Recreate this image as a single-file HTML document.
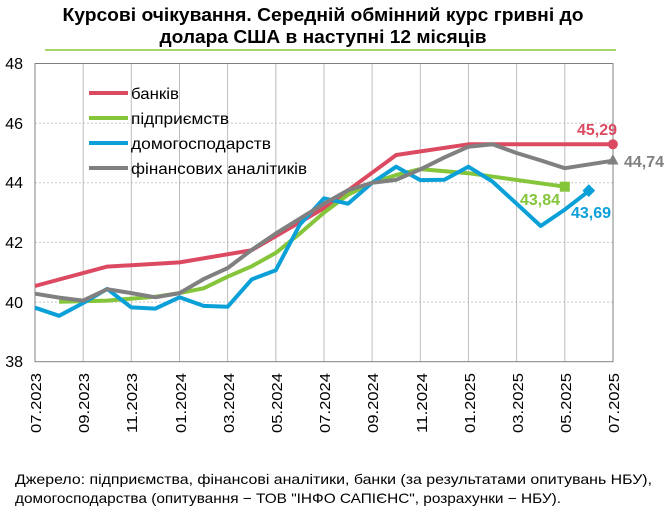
<!DOCTYPE html>
<html><head><meta charset="utf-8"><style>
html,body{margin:0;padding:0;background:#fff;}
svg{display:block;font-family:"Liberation Sans",sans-serif;}
</style></head><body>
<svg width="667" height="507" viewBox="0 0 667 507" xmlns="http://www.w3.org/2000/svg">
<text x="323" y="21" font-size="18" font-weight="bold" text-anchor="middle" textLength="521" lengthAdjust="spacingAndGlyphs" fill="#000">Курсові очікування. Середній обмінний курс гривні до</text>
<text x="323" y="43" font-size="18" font-weight="bold" text-anchor="middle" textLength="327" lengthAdjust="spacingAndGlyphs" fill="#000">долара США в наступні 12 місяців</text>
<line x1="45" y1="50" x2="616" y2="50" stroke="#8cc63f" stroke-width="1.5"/>
<g stroke="#c8c8c8" stroke-width="1" stroke-dasharray="2,2">
<line x1="35" y1="123.2" x2="613" y2="123.2"/><line x1="35" y1="182.8" x2="613" y2="182.8"/><line x1="35" y1="242.4" x2="613" y2="242.4"/><line x1="35" y1="302.1" x2="613" y2="302.1"/>
</g>
<g stroke="#bdbdbd" stroke-width="1">
<line x1="83.2" y1="63.5" x2="83.2" y2="361.7"/><line x1="131.3" y1="63.5" x2="131.3" y2="361.7"/><line x1="179.5" y1="63.5" x2="179.5" y2="361.7"/><line x1="227.6" y1="63.5" x2="227.6" y2="361.7"/><line x1="275.8" y1="63.5" x2="275.8" y2="361.7"/><line x1="324" y1="63.5" x2="324" y2="361.7"/><line x1="372.1" y1="63.5" x2="372.1" y2="361.7"/><line x1="420.3" y1="63.5" x2="420.3" y2="361.7"/><line x1="468.4" y1="63.5" x2="468.4" y2="361.7"/><line x1="516.6" y1="63.5" x2="516.6" y2="361.7"/><line x1="564.8" y1="63.5" x2="564.8" y2="361.7"/>
</g>
<rect x="35" y="63.5" width="578" height="298.2" fill="none" stroke="#808080" stroke-width="1"/>
<g font-size="16" fill="#000" text-anchor="end">
<text x="23" y="69">48</text><text x="23" y="129">46</text><text x="23" y="188">44</text><text x="23" y="248">42</text><text x="23" y="308">40</text><text x="23" y="367">38</text>
</g>
<g font-size="15" fill="#000">
<text transform="translate(41,433) rotate(-90)" textLength="60" lengthAdjust="spacingAndGlyphs">07.2023</text>
<text transform="translate(89,433) rotate(-90)" textLength="60" lengthAdjust="spacingAndGlyphs">09.2023</text>
<text transform="translate(137,433) rotate(-90)" textLength="60" lengthAdjust="spacingAndGlyphs">11.2023</text>
<text transform="translate(186,433) rotate(-90)" textLength="60" lengthAdjust="spacingAndGlyphs">01.2024</text>
<text transform="translate(234,433) rotate(-90)" textLength="60" lengthAdjust="spacingAndGlyphs">03.2024</text>
<text transform="translate(282,433) rotate(-90)" textLength="60" lengthAdjust="spacingAndGlyphs">05.2024</text>
<text transform="translate(330,433) rotate(-90)" textLength="60" lengthAdjust="spacingAndGlyphs">07.2024</text>
<text transform="translate(378,433) rotate(-90)" textLength="60" lengthAdjust="spacingAndGlyphs">09.2024</text>
<text transform="translate(427,433) rotate(-90)" textLength="60" lengthAdjust="spacingAndGlyphs">11.2024</text>
<text transform="translate(475,433) rotate(-90)" textLength="60" lengthAdjust="spacingAndGlyphs">01.2025</text>
<text transform="translate(523,433) rotate(-90)" textLength="60" lengthAdjust="spacingAndGlyphs">03.2025</text>
<text transform="translate(571,433) rotate(-90)" textLength="60" lengthAdjust="spacingAndGlyphs">05.2025</text>
<text transform="translate(619,433) rotate(-90)" textLength="60" lengthAdjust="spacingAndGlyphs">07.2025</text>
</g>
<g fill="none" stroke-width="4" stroke-linejoin="round">
<polyline stroke="#dc4a62" points="35,286 107.2,266.6 179.5,262.4 251.7,250.2 324,208.1 396.2,155 468.4,144.3 612.9,144.3"/>
<polyline stroke="#84c53a" points="59.1,301.8 107.2,300.6 155.4,296.7 179.5,293.1 203.6,288.3 227.6,276.7 251.7,266.3 275.8,252.9 299.9,233.5 324,212.6 348,194.7 372.1,182.8 396.2,175 420.3,169.1 468.4,173.2 564.8,186.7"/>
<polyline stroke="#0ba0d8" points="35,307.7 59.1,315.8 83.2,303 107.2,288.9 131.3,307.4 155.4,308.6 179.5,297.3 203.6,305.9 227.6,306.8 251.7,279.4 275.8,270.2 299.9,224.5 324,198.3 348,203.7 372.1,182.8 396.2,166.7 420.3,180.1 444.4,179.8 468.4,166.7 492.5,181.6 516.6,203.7 540.7,226 564.8,209.6 588.8,191.1"/>
<polyline stroke="#808080" points="35,293.7 59.1,297.6 83.2,300.6 107.2,289.2 131.3,293.1 155.4,297.3 179.5,293.1 203.6,279.1 227.6,268.1 251.7,249.9 275.8,233.5 299.9,218.6 324,203.7 348,190.2 372.1,182.8 396.2,179.8 420.3,169.4 444.4,157.4 468.4,146.7 492.5,144.3 516.6,153 540.7,160.4 564.8,168.2 612.9,160.7"/>
</g>
<circle cx="612.9" cy="144.3" r="5" fill="#dc4a62"/>
<rect x="559.8" y="181.7" width="10" height="10" fill="#84c53a"/>
<rect x="584" y="186.3" width="9" height="9" fill="#0ba0d8" transform="rotate(45 588.8 191.1)"/>
<polygon points="612.9,154 618.5,164.5 607.3,164.5" fill="#808080"/>
<g font-size="16" font-weight="bold">
<text x="597" y="135" text-anchor="middle" fill="#dc4a62">45,29</text>
<text x="624" y="167" fill="#808080">44,74</text>
<text x="520" y="205" fill="#84c53a">43,84</text>
<text x="571" y="218" fill="#0ba0d8">43,69</text>
</g>
<g stroke-width="4">
<line x1="89" y1="93" x2="128" y2="93" stroke="#dc4a62"/>
<line x1="89" y1="118" x2="128" y2="118" stroke="#84c53a"/>
<line x1="89" y1="143" x2="128" y2="143" stroke="#0ba0d8"/>
<line x1="89" y1="168" x2="128" y2="168" stroke="#808080"/>
</g>
<g font-size="16" fill="#000">
<text x="131" y="99" textLength="48" lengthAdjust="spacingAndGlyphs">банків</text>
<text x="131" y="124" textLength="98" lengthAdjust="spacingAndGlyphs">підприємств</text>
<text x="131" y="149" textLength="140" lengthAdjust="spacingAndGlyphs">домогосподарств</text>
<text x="131" y="174" textLength="176" lengthAdjust="spacingAndGlyphs">фінансових аналітиків</text>
</g>
<g font-size="14" fill="#000">
<text x="15" y="484" textLength="637" lengthAdjust="spacingAndGlyphs">Джерело: підприємства, фінансові аналітики, банки (за результатами опитувань НБУ),</text>
<text x="15" y="503" textLength="546" lengthAdjust="spacingAndGlyphs">домогосподарства (опитування − ТОВ "ІНФО САПІЄНС", розрахунки − НБУ).</text>
</g>
</svg>
</body></html>
